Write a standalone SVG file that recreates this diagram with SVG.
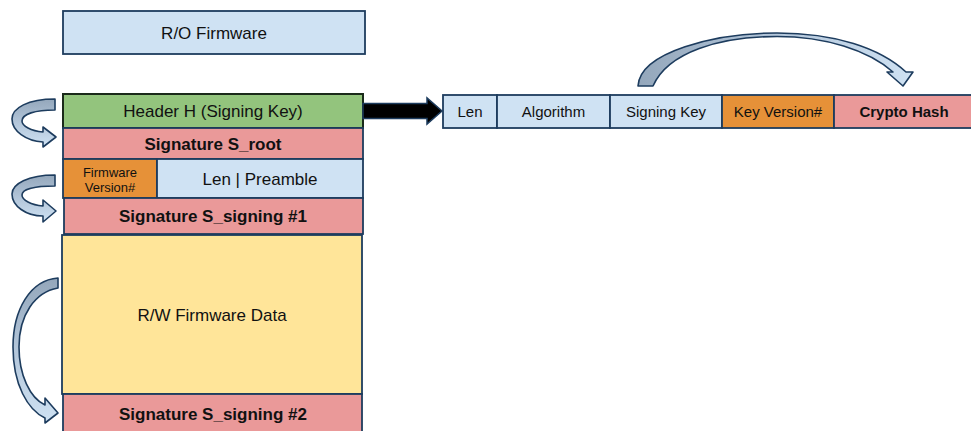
<svg xmlns="http://www.w3.org/2000/svg" width="971" height="431" viewBox="0 0 971 431">
<defs>
<style>
.t{font-family:"Liberation Sans",Arial,sans-serif;fill:#111;text-anchor:middle}
.r17{font-size:17px}
.b17{font-size:17px;font-weight:bold}
.r15{font-size:15px}
.b15{font-size:15px;font-weight:bold}
.r13{font-size:13px}
.box{stroke:#1d3c5e;stroke-width:1.8}
.blue{fill:#cfe2f3}
.pink{fill:#ea9999}
.orange{fill:#e69138}
.yellow{fill:#ffe599}
.green{fill:#93c47d}
.curv{stroke:#1d3c5e;stroke-width:1.6;stroke-linejoin:round}
</style>
<linearGradient id="gv" x1="0" y1="0" x2="0" y2="1">
<stop offset="0" stop-color="#94a7bb"/>
<stop offset="0.5" stop-color="#b3c6da"/>
<stop offset="1" stop-color="#cfe2f3"/>
</linearGradient>
<linearGradient id="gh" x1="0" y1="0" x2="1" y2="0">
<stop offset="0" stop-color="#94a7bb"/>
<stop offset="0.5" stop-color="#b3c6da"/>
<stop offset="1" stop-color="#cfe2f3"/>
</linearGradient>
</defs>
<rect width="971" height="431" fill="#ffffff"/>

<g id="ro-firmware">
<rect class="box blue" x="63" y="11" width="302" height="43"/>
<text class="t r17" x="214" y="38.5">R/O Firmware</text>
</g>

<g id="header">
<rect class="green" x="63" y="94" width="300" height="34" stroke="#1a2a1a" stroke-width="2"/>
<text class="t r17" x="213" y="117">Header H (Signing Key)</text>
</g>

<g id="sig-root">
<rect class="box pink" x="63" y="128" width="300" height="31"/>
<text class="t b17" x="213" y="149.5">Signature S_root</text>
</g>

<g id="fw-version">
<rect class="box orange" x="63" y="159" width="94" height="39"/>
<text class="t r13" x="110" y="176.5">Firmware</text>
<text class="t r13" x="110" y="191.5">Version#</text>
</g>

<g id="len-preamble">
<rect class="box blue" x="157" y="159" width="206" height="39"/>
<text class="t r17" x="260" y="184.5">Len | Preamble</text>
</g>

<g id="sig-signing-1">
<rect class="box pink" x="64" y="198" width="299" height="36"/>
<text class="t b17" x="213" y="222">Signature S_signing #1</text>
</g>

<g id="rw-data">
<rect class="box yellow" x="62" y="235" width="300" height="159"/>
<text class="t r17" x="212" y="320.5">R/W Firmware Data</text>
</g>

<g id="sig-signing-2">
<rect class="box pink" x="63" y="394" width="299" height="45"/>
<text class="t b17" x="213" y="420">Signature S_signing #2</text>
</g>

<g id="key-len">
<rect class="box blue" x="443" y="95" width="54" height="33"/>
<text class="t r15" x="470" y="117">Len</text>
</g>
<g id="key-algorithm">
<rect class="box blue" x="497" y="95" width="113" height="33"/>
<text class="t r15" x="553.5" y="117">Algorithm</text>
</g>
<g id="key-signing-key">
<rect class="box blue" x="610" y="95" width="112" height="33"/>
<text class="t r15" x="666" y="117">Signing Key</text>
</g>
<g id="key-version">
<rect class="box orange" x="722" y="95" width="112" height="33"/>
<text class="t r15" x="778" y="117">Key Version#</text>
</g>
<g id="crypto-hash">
<rect class="box pink" x="834" y="95" width="140" height="33"/>
<text class="t b15" x="904" y="117">Crypto Hash</text>
</g>

<g id="connectors">
<path d="M363,103.5 L427,103.5 L427,98 L442,111 L427,124 L427,118.5 L363,118.5 Z" fill="#000" stroke="#1d3c5e" stroke-width="1.5" stroke-linejoin="miter"/>
<path class="curv" fill="url(#gh)" d="M638,86 C640,52 715,33 777,33 C835,33 880,48 906,72 L913,72 L903,86 L887,72 L893,72 C868,50 825,36.5 777,36.5 C720,36.5 668,52 653,86 Z"/>
<path class="curv" fill="url(#gv)" d="M55,99 C28,99 12,108 12,119 C12,131 26,141 43,142 L43,147 L56,137 L43,127 L43,132 C31,131 22,126 22,121 C22,114 35,110 55,110 Z"/>
<path class="curv" fill="url(#gv)" d="M55,175 C28,175 12,184 12,194 C12,206 26,216 43,216 L43,222 L56,211 L43,200 L43,206 C31,205 22,200 22,195 C22,189 35,186 55,186 Z"/>
<path class="curv" fill="url(#gv)" d="M58,278 C30,280 13,310 13,347 C13,385 28,410 45,418 L45,423 L58,413 L45,398 L45,405 C30,398 19,375 19,347 C19,315 35,292 58,288 Z"/>
</g>
</svg>
